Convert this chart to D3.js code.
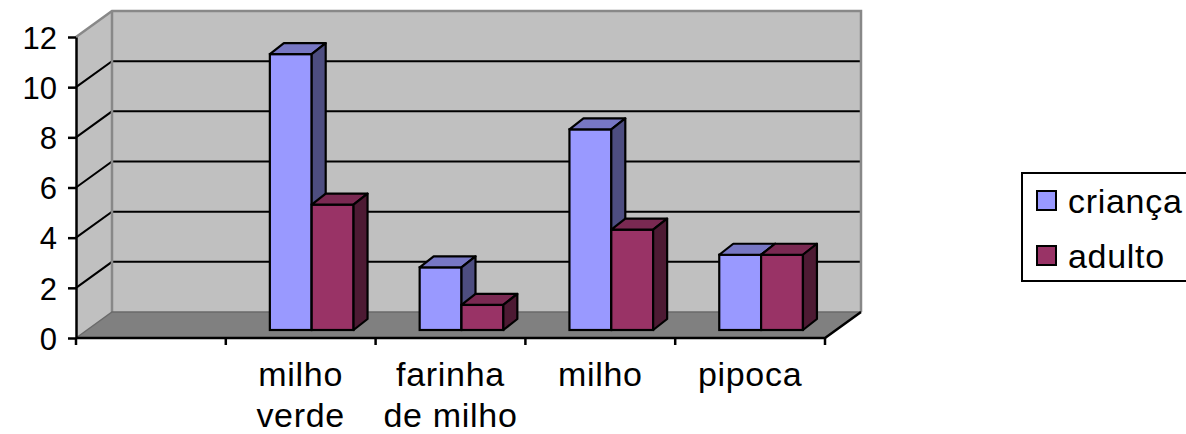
<!DOCTYPE html>
<html>
<head>
<meta charset="utf-8">
<script src="https://cdn.jsdelivr.net/npm/d3@7"></script>
<style>
  body { margin: 0; background: #fff; }
  text { font-family: "Liberation Sans", Arial, sans-serif; font-size: 34px; letter-spacing: 0.7px; fill: #000; }
  .y-axis text { font-size: 31px; letter-spacing: 0; }
</style>
</head>
<body>
<svg id="chart" width="1186" height="434"></svg>
<script>
/*****************************************************************************/
/* Data */
/*****************************************************************************/
var categories = ["", "milho verde", "farinha de milho", "milho", "pipoca"];
var seriesNames = ["criança", "adulto"];
var crianca = [null, 11, 2.5, 8, 3];
var adulto = [null, 5, 1, 4, 3];
var yTicks = [0, 2, 4, 6, 8, 10, 12];

var colors = {
  "criança": {front: "#9999FF", top: "#7777C4", side: "#4D4D80"},
  "adulto": {front: "#993366", top: "#7A2952", side: "#4D1A33"}
};

/*****************************************************************************/
/* Layout */
/*****************************************************************************/
var svg = d3.select("#chart");

var x = d3.scaleBand().domain(categories).range([76, 825]).padding(0);
var y = d3.scaleLinear().domain([0, 12]).range([338, 37]);
var xs = d3.scaleBand().domain(seriesNames).range([0, x.bandwidth()]).paddingOuter(0.79).paddingInner(0);

// depth of the box (oblique projection) and of each bar
var DX = 36, DY = -26;
var barOff = {x: 11, y: -8};
var barDepth = {x: 14, y: -11};

var x0 = x.range()[0], x1 = x.range()[1];
var yTop = y(12), yBot = y(0);

function pts(a) { return a.map(function (p) { return p.join(","); }).join(" "); }

/* walls */
svg.append("polygon") // side wall
  .attr("points", pts([[x0, yTop], [x0 + DX, yTop + DY], [x0 + DX, yBot + DY], [x0, yBot]]))
  .attr("fill", "#C0C0C0");
svg.append("polygon") // back wall
  .attr("points", pts([[x0 + DX, yTop + DY], [x1 + DX, yTop + DY], [x1 + DX, yBot + DY], [x0 + DX, yBot + DY]]))
  .attr("fill", "#C0C0C0");
svg.append("polygon") // floor
  .attr("points", pts([[x0, yBot], [x0 + DX, yBot + DY], [x1 + DX, yBot + DY], [x1, yBot]]))
  .attr("fill", "#808080");

/* gridlines */
var grid = yTicks.filter(function (v) { return v > 0 && v < 12; });
svg.selectAll(".grid").data(grid).enter().append("polyline")
  .attr("points", function (v) { return pts([[x0, y(v)], [x0 + DX, y(v) + DY], [x1 + DX, y(v) + DY]]); })
  .attr("fill", "none").attr("stroke", "#000").attr("stroke-width", 2);

/* wall edges */
svg.append("polyline")
  .attr("points", pts([[x0, yTop], [x0 + DX, yTop + DY], [x1 + DX, yTop + DY], [x1 + DX, yBot + DY]]))
  .attr("fill", "none").attr("stroke", "#888").attr("stroke-width", 2.5);
svg.append("line")
  .attr("x1", x0 + DX).attr("y1", yTop + DY).attr("x2", x0 + DX).attr("y2", yBot + DY)
  .attr("stroke", "#888").attr("stroke-width", 2.5);
svg.append("polyline")
  .attr("points", pts([[x0, yBot], [x0 + DX, yBot + DY], [x1 + DX, yBot + DY]]))
  .attr("fill", "none").attr("stroke", "#6a6a6a").attr("stroke-width", 1.5);

/*****************************************************************************/
/* Bars */
/*****************************************************************************/
var barData = [];
categories.forEach(function (c, i) {
  [crianca[i], adulto[i]].forEach(function (v, j) {
    if (v != null) barData.push({cat: c, series: seriesNames[j], value: v});
  });
});

var bars = svg.selectAll(".bar").data(barData).enter().append("g").attr("class", "bar");

bars.each(function (d) {
  var g = d3.select(this);
  var bx = x(d.cat) + xs(d.series) + barOff.x;
  var bw = xs.bandwidth();
  var yt = y(d.value) + barOff.y, yb = y(0) + barOff.y;
  var c = colors[d.series];
  g.append("rect")
    .attr("x", bx).attr("y", yt).attr("width", bw).attr("height", yb - yt)
    .attr("fill", c.front).attr("stroke", "#000").attr("stroke-width", 2.2);
  g.append("polygon")
    .attr("points", pts([[bx, yt], [bx + barDepth.x, yt + barDepth.y], [bx + bw + barDepth.x, yt + barDepth.y], [bx + bw, yt]]))
    .attr("fill", c.top).attr("stroke", "#000").attr("stroke-width", 2.2).attr("stroke-linejoin", "round");
  g.append("polygon")
    .attr("points", pts([[bx + bw, yt], [bx + bw + barDepth.x, yt + barDepth.y], [bx + bw + barDepth.x, yb + barDepth.y], [bx + bw, yb]]))
    .attr("fill", c.side).attr("stroke", "#000").attr("stroke-width", 2.2).attr("stroke-linejoin", "round");
});

/*****************************************************************************/
/* Axes */
/*****************************************************************************/
var yAxis = d3.axisLeft(y).tickValues(yTicks).tickSize(8).tickSizeOuter(0).tickPadding(11).tickFormat(d3.format("d"));
var yg = svg.append("g").attr("class", "y-axis").attr("transform", "translate(" + x0 + ",0)").call(yAxis);
yg.attr("font-size", null).attr("font-family", null);
yg.select(".domain").attr("stroke", "#000").attr("stroke-width", 2.5);
yg.selectAll(".tick line").attr("stroke", "#000").attr("stroke-width", 2.5);
yg.selectAll(".tick text").attr("dy", "0.36em");

// x axis: front edge of floor with ticks at category boundaries
svg.append("polyline")
  .attr("points", pts([[x0, yBot], [x1, yBot], [x1 + DX, yBot + DY]]))
  .attr("fill", "none").attr("stroke", "#000").attr("stroke-width", 2.5);
var bounds = categories.map(function (c) { return x(c); }).concat([x1]);
svg.selectAll(".xtick").data(bounds).enter().append("line")
  .attr("x1", function (d) { return d; }).attr("x2", function (d) { return d; })
  .attr("y1", yBot).attr("y2", yBot + 7)
  .attr("stroke", "#000").attr("stroke-width", 2.5);

var labelLines = {"milho verde": ["milho", "verde"], "farinha de milho": ["farinha", "de milho"]};
var xl = svg.selectAll(".xlabel").data(categories.filter(function (c) { return c !== ""; })).enter()
  .append("text").attr("class", "xlabel").attr("text-anchor", "middle");
xl.each(function (c) {
  var lines = labelLines[c] || [c];
  var t = d3.select(this);
  lines.forEach(function (s, i) {
    t.append("tspan").attr("x", x(c) + x.bandwidth() / 2).attr("y", 386 + i * 41).text(s);
  });
});

/*****************************************************************************/
/* Legend */
/*****************************************************************************/
var legend = svg.append("g").attr("transform", "translate(1022,173)");
legend.append("rect").attr("width", 180).attr("height", 108)
  .attr("fill", "#fff").attr("stroke", "#000").attr("stroke-width", 2);
var li = legend.selectAll(".li").data(seriesNames).enter().append("g")
  .attr("transform", function (d, i) { return "translate(15," + (18 + i * 55) + ")"; });
li.append("rect").attr("width", 19).attr("height", 19)
  .attr("fill", function (d) { return colors[d].front; }).attr("stroke", "#000").attr("stroke-width", 2);
li.append("text").attr("x", 31).attr("y", 22).text(function (d) { return d; });
</script>
</body>
</html>
